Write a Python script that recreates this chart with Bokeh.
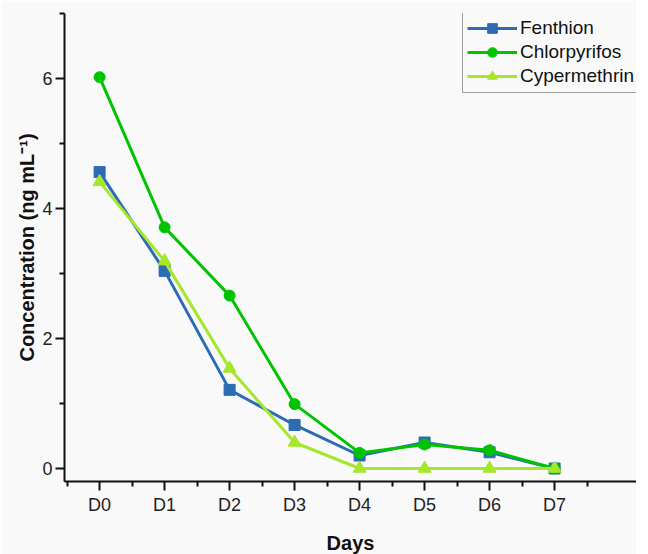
from bokeh.plotting import figure
from bokeh.models import Range1d, FixedTicker, Legend, LegendItem
from bokeh.embed import file_html
from bokeh.resources import INLINE

days = ["D0", "D1", "D2", "D3", "D4", "D5", "D6", "D7"]
fenthion = [4.56, 3.04, 1.21, 0.67, 0.20, 0.40, 0.25, 0.00]
chlorpyrifos = [6.02, 3.71, 2.66, 0.99, 0.24, 0.37, 0.28, 0.00]
cypermethrin = [4.41, 3.19, 1.54, 0.40, 0.00, 0.00, 0.00, 0.00]
y_ticks = [0, 2, 4, 6]

FONT = "Liberation Sans"
BG = "#f9f9f9"

x = list(range(len(days)))

p = figure(width=636, height=556, output_backend="svg", toolbar_location=None,
           x_range=Range1d(-0.54, 8.26), y_range=Range1d(-0.2, 7.0),
           min_border_left=64, min_border_right=0, min_border_top=13, min_border_bottom=71)
p.background_fill_color = BG
p.border_fill_color = BG
p.outline_line_color = None
p.xgrid.visible = False
p.ygrid.visible = False

series = [
    ("Fenthion", fenthion, "#2b6cb5", "square", 11),
    ("Chlorpyrifos", chlorpyrifos, "#00c400", "circle", 11),
    ("Cypermethrin", cypermethrin, "#a6e62c", "triangle", 13),
]
items = []
for name, ys, col, mk, sz in series:
    r1 = p.line(x, ys, line_color=col, line_width=3)
    r2 = p.scatter(x, ys, marker=mk, size=sz, fill_color=col, line_color=col)
    items.append(LegendItem(label=name, renderers=[r1, r2]))

leg = Legend(items=items, location=(398, 388))
leg.margin = 0
leg.padding = 4
leg.spacing = 0
leg.glyph_width = 50
leg.glyph_height = 24
leg.label_height = 24
leg.label_standoff = 3
leg.label_text_font = FONT
leg.label_text_font_size = "19px"
leg.label_text_color = "#111111"
leg.background_fill_color = BG
leg.background_fill_alpha = 1
leg.border_line_color = "#444444"
leg.border_line_width = 1
p.add_layout(leg)

xa = p.xaxis[0]
xa.ticker = FixedTicker(ticks=x, minor_ticks=[i + 0.5 for i in range(-1, 9)])
xa.major_label_overrides = {i: d for i, d in enumerate(days)}
xa.axis_label = "Days"
ya = p.yaxis[0]
ya.ticker = FixedTicker(ticks=y_ticks, minor_ticks=[1, 3, 5, 7])
ya.axis_label = "Concentration (ng mL\u207b\u00b9)"

for ax in (xa, ya):
    ax.axis_line_width = 2
    ax.axis_line_color = "#111111"
    ax.major_tick_line_width = 2
    ax.minor_tick_line_width = 2
    ax.major_tick_line_color = "#111111"
    ax.minor_tick_line_color = "#111111"
    ax.major_tick_in = 0
    ax.major_tick_out = 9
    ax.minor_tick_in = 0
    ax.minor_tick_out = 5
    ax.major_label_text_font = FONT
    ax.major_label_text_font_size = "18px"
    ax.major_label_text_color = "#222222"
    ax.axis_label_text_font = FONT
    ax.axis_label_text_font_style = "bold"
    ax.axis_label_text_color = "#111111"
xa.axis_label_text_font_size = "20px"
ya.axis_label_text_font_size = "20px"
xa.major_label_standoff = 4
xa.axis_label_standoff = 14
ya.major_label_standoff = 3
ya.axis_label_standoff = 1

open("out.html", "w").write(file_html(p, INLINE))
